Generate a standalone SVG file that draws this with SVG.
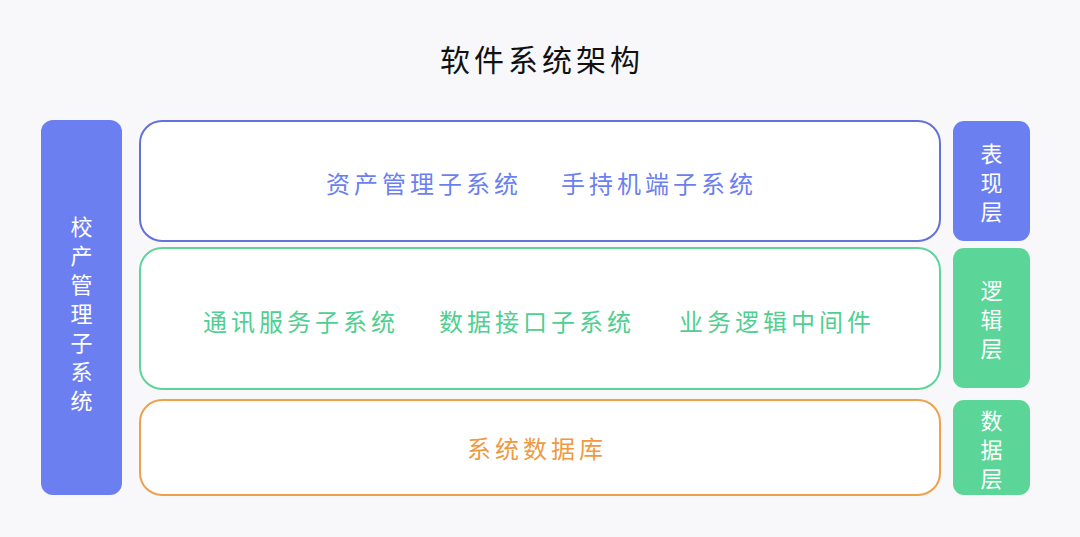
<svg xmlns="http://www.w3.org/2000/svg" width="1080" height="537" viewBox="0 0 1080 537">
<style>
text{font-family:"Noto Sans CJK SC","Noto Sans",sans-serif;text-anchor:middle}
.w{fill:#fff;font-size:22px}
.h{font-size:24px;letter-spacing:4px}
.b{fill:#fff;stroke-width:2}
</style>
<rect width="1080" height="537" fill="#f8f8fb"/>
<text x="542" y="71" font-size="30" letter-spacing="4" fill="#111">软件系统架构</text>
<g id="left"><rect x="41" y="120" width="81" height="375" rx="12" fill="#6b7ff0"/>
<text class="w" x="81.5" y="235">校</text><text class="w" x="81.5" y="264">产</text><text class="w" x="81.5" y="293">管</text><text class="w" x="81.5" y="322">理</text><text class="w" x="81.5" y="351">子</text><text class="w" x="81.5" y="380">系</text><text class="w" x="81.5" y="409">统</text></g>
<g id="pres"><rect class="b" x="140" y="121" width="800" height="120" rx="22" stroke="#6471db"/>
<text class="h" x="424" y="193" fill="#6b7ff0">资产管理子系统</text><text class="h" x="659" y="193" fill="#6b7ff0">手持机端子系统</text></g>
<g id="logic"><rect class="b" x="140" y="248" width="800" height="141" rx="22" stroke="#5fd49a"/>
<text class="h" x="301" y="331" fill="#4fcf90">通讯服务子系统</text><text class="h" x="537" y="331" fill="#4fcf90">数据接口子系统</text><text class="h" x="777" y="331" fill="#4fcf90">业务逻辑中间件</text></g>
<g id="data"><rect class="b" x="140" y="400" width="800" height="95" rx="22" stroke="#f0a04b"/>
<text class="h" x="537" y="458" fill="#ef9a40">系统数据库</text></g>
<g id="t1"><rect x="953" y="121" width="77" height="120" rx="11" fill="#6b7ff0"/>
<text class="w" x="991.5" y="162">表</text><text class="w" x="991.5" y="191">现</text><text class="w" x="991.5" y="220">层</text></g>
<g id="t2"><rect x="953" y="248" width="77" height="140" rx="11" fill="#5cd598"/>
<text class="w" x="991.5" y="299">逻</text><text class="w" x="991.5" y="328">辑</text><text class="w" x="991.5" y="357">层</text></g>
<g id="t3"><rect x="953" y="400" width="77" height="95" rx="11" fill="#5cd598"/>
<text class="w" x="991.5" y="429">数</text><text class="w" x="991.5" y="458">据</text><text class="w" x="991.5" y="487">层</text></g>
<g id="connectors"/>
</svg>
